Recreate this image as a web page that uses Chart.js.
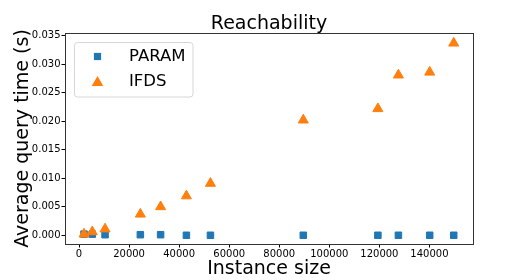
<!DOCTYPE html>
<html>
<head>
<meta charset="utf-8">
<script src="https://cdn.jsdelivr.net/npm/chart.js@4/dist/chart.umd.min.js"></script>
<style>
  html, body { margin: 0; padding: 0; background: #fff; }
  #wrap { width: 525px; height: 280px; }
</style>
</head>
<body>
<div id="wrap"><canvas id="c" width="525" height="280"></canvas></div>
<script>
// ---- data ----
const titleText = 'Reachability';
const xLabel = 'Instance size';
const yLabel = 'Average query time (s)';
const seriesNames = ['PARAM', 'IFDS'];
const instanceSizes = [2000, 5300, 10400, 24500, 32600, 42900, 52500, 89600, 119400, 127600, 140100, 149700];
const paramTimes = [0.0002, 0.0002, 0.0001, 0.0001, 0.0001, 0.0000, 0.0000, 0.0000, 0.0000, 0.0000, 0.0000, 0.0000];
const ifdsTimes = [0.0002, 0.0006, 0.0011, 0.0037, 0.0050, 0.0069, 0.0091, 0.0202, 0.0222, 0.0281, 0.0286, 0.0337];
const xTicks = [0, 20000, 40000, 60000, 80000, 100000, 120000, 140000];
const yTicks = [0, 0.005, 0.010, 0.015, 0.020, 0.025, 0.030, 0.035];

const BLUE = '#1f77b4';
const ORANGE = '#ff7f0e';
const FONT = 'DejaVu Sans';
const X_MIN = -5600, X_MAX = 157400;
const Y_MIN = -0.00153, Y_MAX = 0.03548;

function pts(xs, ys) { return xs.map((x, i) => ({ x: x, y: ys[i] })); }

const legendPlugin = {
  id: 'boxLegend',
  afterDraw(chart) {
    const ctx = chart.ctx;
    const a = chart.chartArea;
    const bx = a.left + 9.5, by = a.top + 9.5, bw = 118.5, bh = 54.5, r = 3;
    ctx.save();
    ctx.beginPath();
    ctx.moveTo(bx + r, by);
    ctx.arcTo(bx + bw, by, bx + bw, by + bh, r);
    ctx.arcTo(bx + bw, by + bh, bx, by + bh, r);
    ctx.arcTo(bx, by + bh, bx, by, r);
    ctx.arcTo(bx, by, bx + bw, by, r);
    ctx.closePath();
    ctx.fillStyle = 'rgba(255,255,255,0.8)';
    ctx.fill();
    ctx.strokeStyle = '#d6d6d6';
    ctx.lineWidth = 1;
    ctx.stroke();
    const mx = a.left + 32.5;
    const rows = [a.top + 23.5, a.top + 48.5];
    ctx.fillStyle = BLUE;
    ctx.fillRect(mx - 3.6, rows[0] - 3.6, 7.2, 7.2);
    ctx.fillStyle = ORANGE;
    ctx.beginPath();
    ctx.moveTo(mx, rows[1] - 5.5);
    ctx.lineTo(mx + 5.8, rows[1] + 4.5);
    ctx.lineTo(mx - 5.8, rows[1] + 4.5);
    ctx.closePath();
    ctx.fill();
    ctx.fillStyle = '#000';
    ctx.font = '16.5px "' + FONT + '"';
    ctx.textBaseline = 'middle';
    ctx.textAlign = 'left';
    ctx.fillText(chart.data.datasets[1].label, a.left + 64, rows[0]);
    ctx.fillText(chart.data.datasets[0].label, a.left + 64, rows[1]);
    ctx.restore();
  }
};

const tickFont = { family: FONT, size: 10 };
const titleFont = { family: FONT, size: 19 };

new Chart(document.getElementById('c'), {
  type: 'scatter',
  data: {
    datasets: [
      {
        label: seriesNames[1],
        data: pts(instanceSizes, ifdsTimes),
        pointStyle: 'triangle',
        pointRadius: 5.8,
        pointBorderWidth: 1,
        backgroundColor: ORANGE,
        borderColor: ORANGE,
        order: 0
      },
      {
        label: seriesNames[0],
        data: pts(instanceSizes, paramTimes),
        pointStyle: 'rect',
        pointRadius: 4.6,
        pointBorderWidth: 1,
        backgroundColor: BLUE,
        borderColor: BLUE,
        order: 1
      }
    ]
  },
  options: {
    responsive: false,
    animation: false,
    devicePixelRatio: 1,
    layout: { padding: 0 },
    plugins: { legend: { display: false }, tooltip: { enabled: false } },
    scales: {
      x: {
        type: 'linear',
        position: 'bottom',
        min: X_MIN, max: X_MAX,
        afterBuildTicks: s => { s.ticks = xTicks.map(v => ({ value: v })); },
        afterFit: s => { s.height = 36; },
        ticks: { font: tickFont, color: '#000', padding: 1, maxRotation: 0, autoSkip: false,
                 callback: v => String(v) },
        grid: { drawOnChartArea: false, drawTicks: true, tickLength: 3.5, color: '#000' },
        border: { display: true, color: '#333', width: 1 },
        title: { display: true, text: xLabel, font: titleFont, color: '#000', padding: { top: 0, bottom: 0 } }
      },
      xTop: {
        type: 'linear',
        position: 'top',
        min: X_MIN, max: X_MAX,
        afterFit: s => { s.height = 33; },
        ticks: { display: false },
        grid: { drawOnChartArea: false, drawTicks: false },
        border: { display: true, color: '#333', width: 1 },
        title: { display: true, text: titleText, font: titleFont, color: '#000', padding: { top: 12.5, bottom: 0 } }
      },
      y: {
        type: 'linear',
        position: 'left',
        min: Y_MIN, max: Y_MAX,
        afterBuildTicks: s => { s.ticks = yTicks.map(v => ({ value: v })); },
        afterFit: s => { s.width = 65; },
        ticks: { font: tickFont, color: '#000', padding: 1, autoSkip: false,
                 callback: v => Number(v).toFixed(3) },
        grid: { drawOnChartArea: false, drawTicks: true, tickLength: 3.5, color: '#000' },
        border: { display: true, color: '#333', width: 1 },
        title: { display: true, text: yLabel, font: titleFont, color: '#000', padding: { top: 12, bottom: 0 } }
      },
      yRight: {
        type: 'linear',
        position: 'right',
        min: Y_MIN, max: Y_MAX,
        afterFit: s => { s.width = 52; },
        ticks: { display: false },
        grid: { drawOnChartArea: false, drawTicks: false },
        border: { display: true, color: '#333', width: 1 }
      }
    }
  },
  plugins: [legendPlugin]
});
</script>
</body>
</html>
